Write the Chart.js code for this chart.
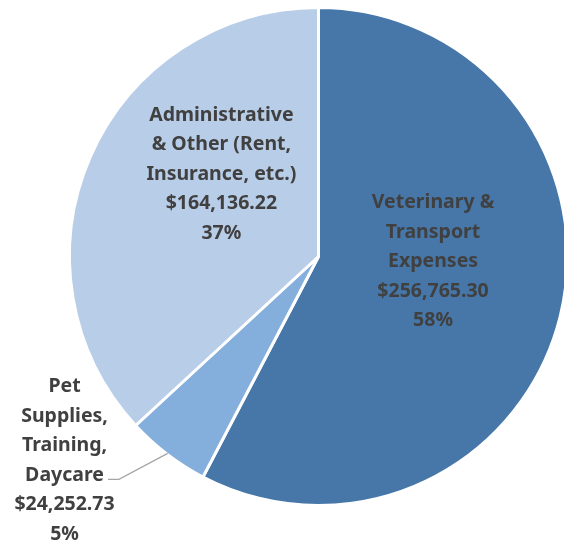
<!DOCTYPE html>
<html>
<head>
<meta charset="utf-8">
<script src="https://cdn.jsdelivr.net/npm/chart.js@4.4.1/dist/chart.umd.min.js"></script>
<style>
  html, body { margin: 0; padding: 0; background: #ffffff; overflow: hidden; }
  #wrap { position: relative; width: 572px; height: 542px; }
</style>
</head>
<body>
<div id="wrap"><canvas id="pie-chart"></canvas></div>
<script>
const categories = [
  ["Veterinary &", "Transport", "Expenses"],
  ["Pet", "Supplies,", "Training,", "Daycare"],
  ["Administrative", "& Other (Rent,", "Insurance, etc.)"],
];
const amounts = [256765.30, 24252.73, 164136.22];
const amountLabels = ["$256,765.30", "$24,252.73", "$164,136.22"];
const percentLabels = ["58%", "5%", "37%"];

const Config = {
  colors: ["#4677a8", "#84aedb", "#b8cde8"],
  text: "#404040",
  leader: "#a6a6a6",
  font: '"Noto Sans", sans-serif',
  fontSize: 19.5,
  lineHeight: 29.5,
  // label block centre, as fractions of the radius from the pie centre
  labelPos: [
    { x: 0.46, y: 0.02 },
    { x: -1.02, y: 0.82 },
    { x: -0.39, y: -0.33 },
  ],
};

const labelPlugin = {
  id: "sliceLabels",
  afterDatasetsDraw(chart) {
    const c = chart.ctx;
    const arcs = chart.getDatasetMeta(0).data;
    c.save();
    c.font = `bold ${Config.fontSize}px ${Config.font}`;
    c.fillStyle = Config.text;
    c.textAlign = "center";
    c.textBaseline = "middle";
    arcs.forEach((arc, i) => {
      const r = arc.outerRadius;
      const lines = [...categories[i], amountLabels[i], percentLabels[i]];
      const cx = arc.x + Config.labelPos[i].x * r;
      const cy = arc.y + Config.labelPos[i].y * r;
      const top = cy - ((lines.length - 1) * Config.lineHeight) / 2;
      lines.forEach((ln, j) => {
        c.fillText(ln, cx, top + j * Config.lineHeight);
      });
      // leader line for the small slice, whose label sits outside
      if (i === 1) {
        const mid = (arc.startAngle + arc.endAngle) / 2;
        const ex = arc.x + Math.cos(mid) * (r - 1);
        const ey = arc.y + Math.sin(mid) * (r - 1);
        const ly = top + 3 * Config.lineHeight + 4;
        const w = c.measureText(lines[3]).width;
        c.strokeStyle = Config.leader;
        c.lineWidth = 1.3;
        c.beginPath();
        c.moveTo(ex, ey);
        c.lineTo(cx + w / 2 + 15, ly);
        c.lineTo(cx + w / 2 + 4, ly);
        c.stroke();
      }
    });
    c.restore();
  },
};

new Chart(document.getElementById("pie-chart"), {
  type: "pie",
  data: {
    labels: categories.map((l) => l.join(" ")),
    datasets: [
      {
        data: amounts,
        backgroundColor: Config.colors,
        borderColor: "#ffffff",
        borderWidth: 3,
        hoverOffset: 0,
        offset: 0,
      },
    ],
  },
  options: {
    responsive: true,
    maintainAspectRatio: false,
    animation: false,
    rotation: 0,
    layout: { padding: { left: 68, top: 6, right: 3, bottom: 35 } },
    plugins: {
      legend: { display: false },
      tooltip: { enabled: false },
    },
  },
  plugins: [labelPlugin],
});
</script>
</body>
</html>
